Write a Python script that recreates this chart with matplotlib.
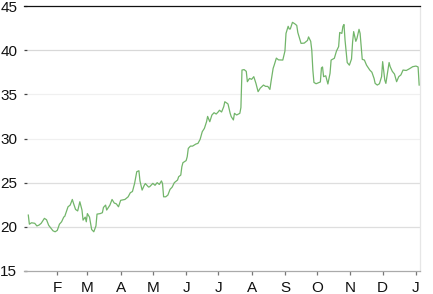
import matplotlib
matplotlib.use("Agg")
import matplotlib.pyplot as plt
import matplotlib.dates as mdates
import pandas as pd

# Day offsets from Jan 1 and closing prices
days = [4, 5, 7, 10, 12, 14, 16, 19, 21, 23, 27, 29, 31, 33, 35, 37, 38, 41, 43, 45,
        46, 48, 50, 52, 54, 55, 57, 58, 59, 61, 63, 65, 67, 68, 71, 73, 74, 76, 77, 80,
        82, 84, 86, 88, 90, 94, 97, 99, 101, 103, 105, 107, 108, 110, 112, 113, 116, 117, 120, 122,
        124, 126, 128, 129, 130, 132, 134, 136, 138, 140, 143, 144, 146, 147, 148, 151, 152, 153, 155, 157,
        160, 162, 164, 166, 168, 170, 171, 173, 175, 177, 179, 181, 182, 184, 186, 187, 189, 190, 192, 193,
        195, 196, 198, 201, 202, 203, 205, 207, 208, 210, 212, 214, 216, 218, 220, 223, 225, 227, 229, 230,
        232, 233, 235, 237, 240, 241, 243, 244, 246, 247, 248, 250, 252, 254, 255, 257, 258, 261, 264, 265,
        267, 268, 269, 270, 272, 274, 276, 277, 278, 279, 281, 283, 285, 286, 289, 291, 293, 294, 296, 297,
        298, 299, 301, 303, 305, 306, 307, 309, 310, 312, 313, 314, 315, 317, 319, 322, 324, 326, 327, 329,
        331, 333, 334, 336, 337, 340, 341, 343, 345, 347, 349, 351, 353, 356, 359, 362, 365, 367, 368]
prices = [21.33, 20.3, 20.46, 20.4, 20.1, 20.2, 20.4, 20.96, 20.8, 20.17, 19.55, 19.44, 19.6, 20.3, 20.57, 21.1, 21.2, 22.27, 22.46, 23.1,
          22.7, 21.97, 21.8, 22.84, 21.9, 20.76, 21.1, 20.57, 21.5, 21.1, 19.7, 19.44, 20.1, 21.44, 21.5, 21.6, 22.2, 22.46, 21.9, 22.46,
          23.1, 22.7, 22.6, 22.27, 23.0, 23.1, 23.4, 23.86, 24.0, 24.92, 26.24, 26.35, 25.2, 24.16, 24.7, 24.9, 24.5, 24.54, 24.92, 24.7,
          25.0, 24.8, 25.2, 24.9, 23.4, 23.4, 23.6, 24.24, 24.5, 25.0, 25.3, 25.67, 25.86, 26.8, 27.26, 27.5, 27.94, 28.88, 29.14, 29.14,
          29.37, 29.45, 29.9, 30.77, 31.15, 31.9, 32.5, 31.9, 32.66, 32.92, 32.77, 33.03, 33.2, 33.0, 33.6, 34.16, 34.0, 33.9, 32.85, 32.47,
          32.1, 32.85, 32.66, 32.85, 33.5, 37.75, 37.8, 37.6, 36.43, 36.8, 36.7, 37.0, 36.24, 35.3, 35.7, 36.05, 35.9, 35.9, 35.56, 36.4,
          37.94, 38.3, 39.1, 38.9, 38.88, 38.88, 39.9, 41.9, 42.7, 42.4, 42.4, 43.15, 43.0, 42.8, 42.0, 41.15, 40.77, 40.8, 41.1, 41.5,
          41.0, 40.0, 37.75, 36.35, 36.2, 36.3, 36.4, 38.0, 38.1, 37.0, 37.1, 36.17, 37.38, 38.88, 39.08, 39.9, 40.4, 42.0, 41.9, 42.7,
          42.9, 41.1, 38.6, 38.3, 39.0, 40.9, 42.1, 41.0, 41.3, 42.36, 41.9, 40.5, 38.96, 38.88, 38.3, 37.75, 37.5, 36.8, 36.24, 36.05,
          36.2, 37.0, 38.7, 36.6, 36.24, 38.6, 38.13, 37.6, 37.3, 36.43, 37.0, 37.2, 37.75, 37.7, 37.9, 38.13, 38.2, 38.1, 36.05]
year_start = "2011-01-01"
y_ticks = [15, 20, 25, 30, 35, 40, 45]
month_labels = ["F", "M", "A", "M", "J", "J", "A", "S", "O", "N", "D", "J"]

dates = pd.Timestamp(year_start) + pd.to_timedelta(days, unit="D")
month_ticks = pd.date_range("2011-02-01", periods=12, freq="MS")

plt.rcParams['font.family'] = ['Liberation Sans', 'DejaVu Sans']

fig = plt.figure(figsize=(4.33, 2.94), dpi=100)
ax = fig.add_axes([24/433, 1-271/294, (419.7-24)/433, (271-6)/294])

# gridlines
grid_colors = {20: '#dedede', 25: '#dedede', 30: '#f0f0f0', 35: '#f0f0f0', 40: '#d8d8d8'}
for v, c in grid_colors.items():
    ax.axhline(v, color=c, lw=0.9, zorder=1, xmin=4/395.7)

ax.plot(dates, prices, color='#72b56a', lw=0.9, zorder=3)

ax.set_xlim(pd.Timestamp(year_start), pd.Timestamp(year_start) + pd.Timedelta(days=368.5))
ax.set_ylim(15, 45)

ax.set_yticks(y_ticks)
ax.set_yticklabels([str(t) for t in y_ticks])
ax.set_xticks(month_ticks)
ax.set_xticklabels(month_labels)

ax.tick_params(axis='y', direction='in', length=2.5, width=0.9, color='#444444',
               pad=4.8, labelsize=11, labelcolor='#111111')
ax.tick_params(axis='x', direction='out', length=3.2, width=0.9, color='#777777',
               pad=4.0, labelsize=11, labelcolor='#111111')

ax.spines['left'].set_visible(False)
ax.spines['top'].set_color('#111111')
ax.spines['top'].set_linewidth(0.9)
ax.spines['bottom'].set_color('#aaaaaa')
ax.spines['bottom'].set_linewidth(0.9)
ax.spines['right'].set_color('#e6e6e6')
ax.spines['right'].set_linewidth(0.9)

fig.savefig("out.png", dpi=100)
